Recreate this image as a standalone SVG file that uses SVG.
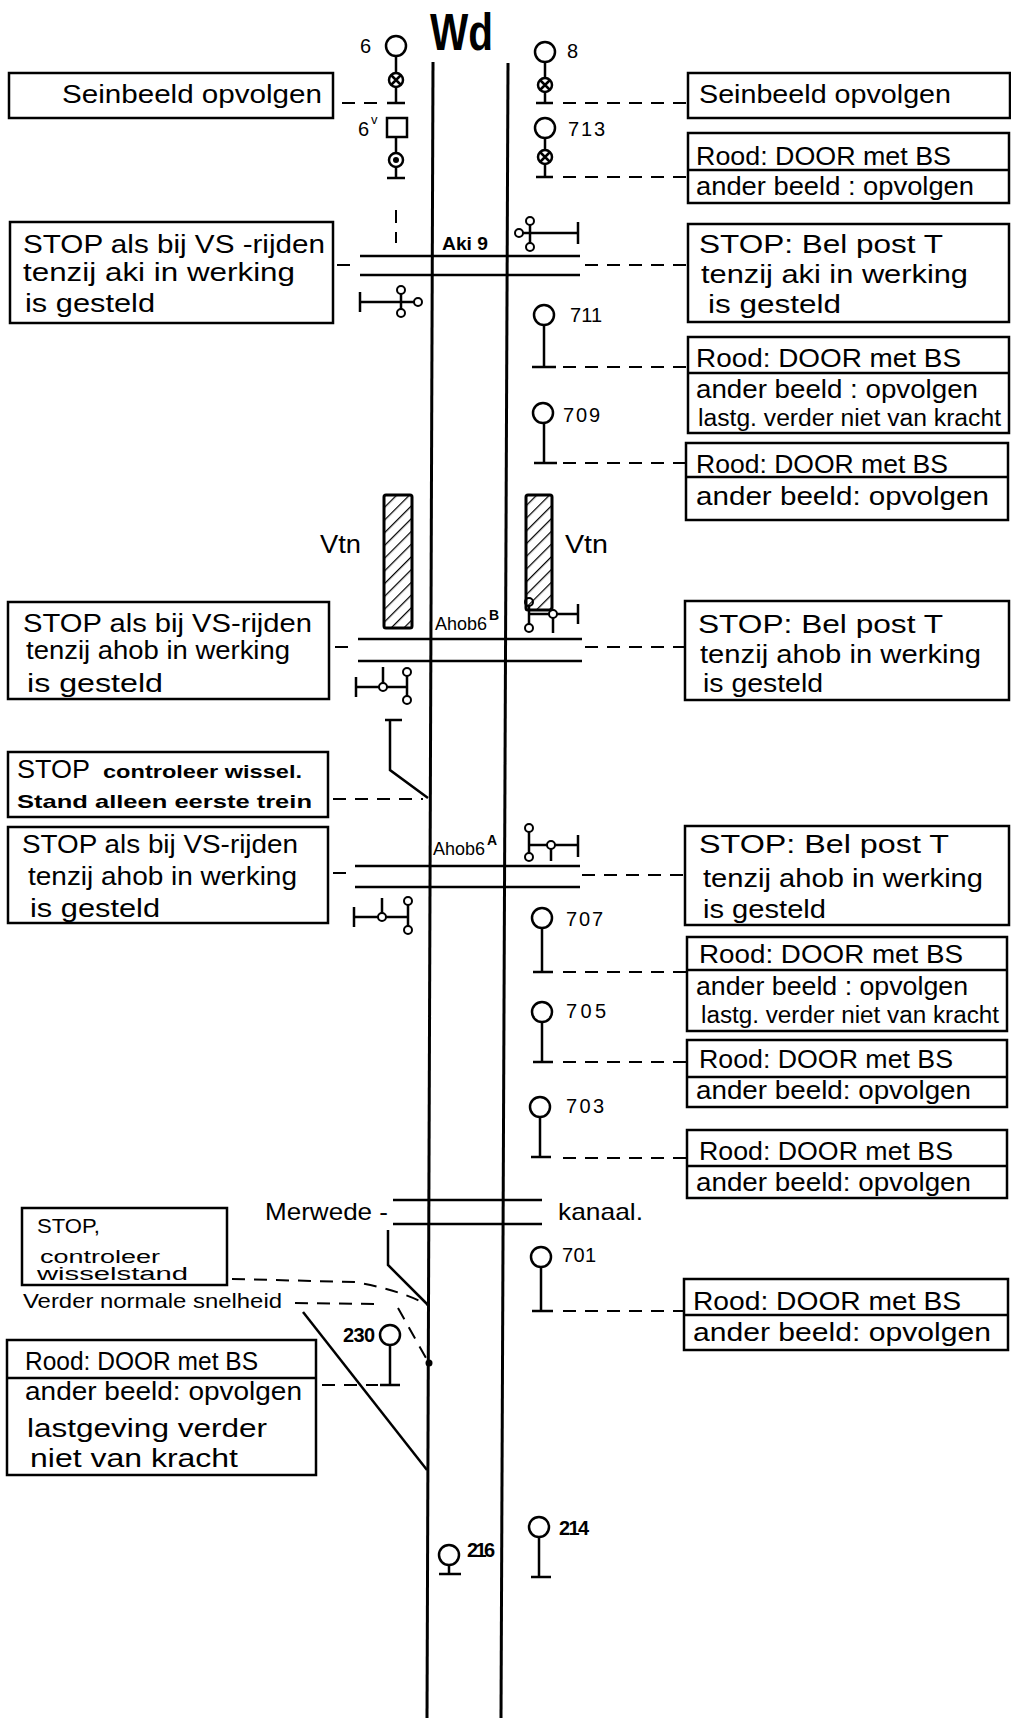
<svg xmlns="http://www.w3.org/2000/svg" width="1011" height="1720" viewBox="0 0 1011 1720">
<style>
text{font-family:"Liberation Sans",Arial,sans-serif;fill:#000}
.t{font-size:26px}
.s{font-size:20px}
.n{font-size:20px}
.box{fill:#fff;stroke:#000;stroke-width:2.5}
.ln{stroke:#000;stroke-width:2.5;fill:none}
.rail{stroke:#000;stroke-width:3;fill:none}
.dash{stroke:#000;stroke-width:2;fill:none;stroke-dasharray:13 9}
.sm{fill:#fff;stroke:#000;stroke-width:2}
.lamp{fill:#fff;stroke:#000;stroke-width:2.5}
</style>
<defs>
<pattern id="hatch" width="9" height="9" patternUnits="userSpaceOnUse" patternTransform="rotate(45)">
<line x1="0" y1="0" x2="0" y2="9" stroke="#000" stroke-width="2.5"/>
</pattern>
<g id="xlamp"><circle r="7" class="lamp"/><path d="M-5,-5L5,5M5,-5L-5,5" class="ln" stroke-width="2"/></g>
</defs>
<rect width="1011" height="1720" fill="#fff"/>

<g id="track">
<line x1="433" y1="62" x2="427" y2="1718" class="rail"/>
<line x1="508" y1="63" x2="501" y2="1718" class="rail"/>
<text x="430" y="50" font-size="52" font-weight="bold" textLength="63" lengthAdjust="spacingAndGlyphs">Wd</text>
</g>

<g id="crossings">
<line x1="360" y1="256" x2="580" y2="256" class="ln"/>
<line x1="360" y1="275" x2="580" y2="275" class="ln"/>
<text x="442" y="250" font-size="19" font-weight="bold" textLength="46" lengthAdjust="spacingAndGlyphs">Aki 9</text>
<line x1="358" y1="639" x2="582" y2="639" class="ln"/>
<line x1="358" y1="661" x2="582" y2="661" class="ln"/>
<text x="435" y="630" font-size="19" textLength="52" lengthAdjust="spacingAndGlyphs">Ahob6</text>
<text x="489" y="620" font-size="14" font-weight="bold">B</text>
<line x1="355" y1="866" x2="580" y2="866" class="ln"/>
<line x1="355" y1="887" x2="580" y2="887" class="ln"/>
<text x="433" y="855" font-size="19" textLength="52" lengthAdjust="spacingAndGlyphs">Ahob6</text>
<text x="487" y="845" font-size="14" font-weight="bold">A</text>
<line x1="393" y1="1200" x2="542" y2="1200" class="ln"/>
<line x1="393" y1="1224" x2="542" y2="1224" class="ln"/>
<text x="265" y="1220" font-size="24" textLength="123" lengthAdjust="spacingAndGlyphs">Merwede -</text>
<text x="558" y="1220" font-size="24" textLength="85" lengthAdjust="spacingAndGlyphs">kanaal.</text>
</g>

<g id="aki-symbols">
<path d="M523,233H578M578,222V244M530,225V243M360,302H414M360,292V312M401,294V309" class="ln" stroke-width="2"/>
<circle cx="519" cy="233" r="4" class="sm"/><circle cx="530" cy="221" r="4" class="sm"/><circle cx="530" cy="247" r="4" class="sm"/>
<circle cx="401" cy="290" r="4" class="sm"/><circle cx="401" cy="313" r="4" class="sm"/><circle cx="418" cy="302" r="4" class="sm"/>
</g>

<g id="ahob-symbols">
<path d="M529,606V624M529,614H578M578,604V624M553,618V633M356,687H407M356,677V697M383,683V667M407,676V696" class="ln" stroke-width="2"/>
<circle cx="529" cy="602" r="4" class="sm"/><circle cx="529" cy="628" r="4" class="sm"/><circle cx="553" cy="614" r="4" class="sm"/>
<circle cx="383" cy="687" r="4" class="sm"/><circle cx="407" cy="672" r="4" class="sm"/><circle cx="407" cy="700" r="4" class="sm"/>
<path d="M529,832V853M529,845H578M578,835V857M551,849V861M354,917H408M354,907V927M382,913V898M408,905V926" class="ln" stroke-width="2"/>
<circle cx="529" cy="828" r="4" class="sm"/><circle cx="529" cy="857" r="4" class="sm"/><circle cx="551" cy="845" r="4" class="sm"/>
<circle cx="382" cy="917" r="4" class="sm"/><circle cx="408" cy="901" r="4" class="sm"/><circle cx="408" cy="930" r="4" class="sm"/>
</g>

<g id="vtn">
<rect x="384" y="495" width="28" height="133" rx="2" fill="url(#hatch)" stroke="#000" stroke-width="3"/>
<rect x="526" y="495" width="26" height="115" rx="2" fill="url(#hatch)" stroke="#000" stroke-width="3"/>
<text x="320" y="553" class="t" textLength="41" lengthAdjust="spacingAndGlyphs">Vtn</text>
<text x="565" y="553" class="t" textLength="43" lengthAdjust="spacingAndGlyphs">Vtn</text>
</g>

<g id="switches">
<path d="M385,720H402M390,720V770L428,798" class="ln"/>
<path d="M388,1230V1265L428,1305" class="ln"/>
<line x1="303" y1="1312" x2="427" y2="1470" class="ln"/>
<circle cx="429" cy="1363" r="3.5" fill="#000"/>
</g>

<g id="sig-6">
<circle cx="396" cy="46" r="10" class="lamp"/><path d="M396,56V103M387,103H405" class="ln"/>
<use href="#xlamp" x="396" y="80"/>
<text x="360" y="53" class="n">6</text>
</g>
<g id="sig-6v">
<rect x="387" y="118" width="20" height="19" class="lamp"/><path d="M396,137V178M387,178H405" class="ln"/>
<circle cx="396" cy="160" r="7" class="lamp"/><circle cx="396" cy="160" r="3" fill="#000"/>
<text x="358" y="136" class="n">6</text><text x="371" y="124" font-size="13">v</text>
<line x1="396" y1="210" x2="396" y2="243" class="dash" stroke-width="2.5"/>
</g>
<g id="sig-8">
<circle cx="545" cy="52" r="10" class="lamp"/><path d="M545,62V103M536,103H553" class="ln"/>
<use href="#xlamp" x="545" y="85"/>
<text x="567" y="58" class="n">8</text>
</g>
<g id="sig-713">
<circle cx="545" cy="128" r="10" class="lamp"/><path d="M545,138V177M536,177H553" class="ln"/>
<use href="#xlamp" x="545" y="157"/>
<text x="568" y="136" class="n" textLength="37">713</text>
</g>
<g id="sig-711">
<circle cx="544" cy="315" r="10" class="lamp"/><path d="M544,325V367M532,367H556" class="ln"/>
<text x="570" y="322" class="n" textLength="32">711</text>
</g>
<g id="sig-709">
<circle cx="543" cy="413" r="10" class="lamp"/><path d="M544,423V463M534,463H557" class="ln"/>
<text x="563" y="422" class="n" textLength="37">709</text>
</g>
<g id="sig-707">
<circle cx="542" cy="918" r="10" class="lamp"/><path d="M542,928V972M533,972H553" class="ln"/>
<text x="566" y="926" class="n" textLength="37">707</text>
</g>
<g id="sig-705">
<circle cx="542" cy="1012" r="10" class="lamp"/><path d="M542,1022V1062M533,1062H553" class="ln"/>
<text x="566" y="1018" class="n" textLength="40">705</text>
</g>
<g id="sig-703">
<circle cx="540" cy="1107" r="10" class="lamp"/><path d="M540,1117V1157M531,1157H551" class="ln"/>
<text x="566" y="1113" class="n" textLength="38">703</text>
</g>
<g id="sig-701">
<circle cx="541" cy="1257" r="10" class="lamp"/><path d="M541,1267V1311M532,1311H553" class="ln"/>
<text x="562" y="1262" class="n" textLength="34">701</text>
</g>
<g id="sig-230">
<circle cx="390" cy="1335" r="10" class="lamp"/><path d="M390,1345V1385M380,1385H400" class="ln"/>
<text x="343" y="1342" class="n" textLength="32" font-weight="bold">230</text>
</g>
<g id="sig-216">
<circle cx="449" cy="1555" r="10" class="lamp"/><path d="M449,1565V1574M439,1574H461" class="ln"/>
<text x="467" y="1557" class="n" textLength="28" font-weight="bold">216</text>
</g>
<g id="sig-214">
<circle cx="539" cy="1527" r="10" class="lamp"/><path d="M539,1537V1577M531,1577H551" class="ln"/>
<text x="559" y="1535" class="n" textLength="30" font-weight="bold">214</text>
</g>

<g id="connectors">
<line x1="563" y1="103" x2="688" y2="103" class="dash"/>
<line x1="563" y1="177" x2="688" y2="177" class="dash"/>
<line x1="585" y1="265" x2="688" y2="265" class="dash"/>
<line x1="563" y1="367" x2="688" y2="367" class="dash"/>
<line x1="563" y1="463" x2="686" y2="463" class="dash"/>
<line x1="585" y1="647" x2="685" y2="647" class="dash"/>
<line x1="582" y1="875" x2="685" y2="875" class="dash"/>
<line x1="563" y1="972" x2="687" y2="972" class="dash"/>
<line x1="563" y1="1062" x2="687" y2="1062" class="dash"/>
<line x1="563" y1="1158" x2="687" y2="1158" class="dash"/>
<line x1="563" y1="1311" x2="684" y2="1311" class="dash"/>
<line x1="342" y1="103" x2="380" y2="103" class="dash"/>
<line x1="337" y1="265" x2="352" y2="265" class="dash"/>
<line x1="335" y1="647" x2="350" y2="647" class="dash"/>
<line x1="333" y1="799" x2="423" y2="799" class="dash"/>
<line x1="333" y1="873" x2="352" y2="873" class="dash"/>
<line x1="322" y1="1385" x2="378" y2="1385" class="dash"/>
<line x1="295" y1="1303" x2="380" y2="1304" class="dash"/>
<path d="M232,1279L355,1282Q400,1290 428,1305" class="dash" stroke-dasharray="8 7"/>
<line x1="398" y1="1308" x2="426" y2="1358" class="dash"/>
</g>

<g id="box-L1"><rect x="9" y="73" width="324" height="45" class="box"/>
<text x="62" y="103" class="t" font-size="28" textLength="260" lengthAdjust="spacingAndGlyphs">Seinbeeld opvolgen</text></g>
<g id="box-L2"><rect x="10" y="222" width="323" height="101" class="box"/>
<text x="23" y="253" class="t" textLength="302" lengthAdjust="spacingAndGlyphs">STOP als bij VS -rijden</text>
<text x="23" y="281" class="t" textLength="272" lengthAdjust="spacingAndGlyphs">tenzij aki in werking</text>
<text x="25" y="312" class="t" textLength="130" lengthAdjust="spacingAndGlyphs">is gesteld</text></g>
<g id="box-L3"><rect x="8" y="602" width="321" height="97" class="box"/>
<text x="23" y="632" class="t" textLength="289" lengthAdjust="spacingAndGlyphs">STOP als bij VS-rijden</text>
<text x="26" y="659" class="t" textLength="264" lengthAdjust="spacingAndGlyphs">tenzij ahob in werking</text>
<text x="27" y="692" class="t" textLength="136" lengthAdjust="spacingAndGlyphs">is gesteld</text></g>
<g id="box-L4"><rect x="8" y="752" width="320" height="65" class="box"/>
<text x="17" y="778" class="t" textLength="73" lengthAdjust="spacingAndGlyphs">STOP</text>
<text x="103" y="778" font-size="19" font-weight="bold" textLength="199" lengthAdjust="spacingAndGlyphs">controleer wissel.</text>
<text x="17" y="808" font-size="19" font-weight="bold" textLength="295" lengthAdjust="spacingAndGlyphs">Stand alleen eerste trein</text></g>
<g id="box-L5"><rect x="8" y="827" width="320" height="96" class="box"/>
<text x="22" y="853" class="t" textLength="276" lengthAdjust="spacingAndGlyphs">STOP als bij VS-rijden</text>
<text x="28" y="885" class="t" textLength="269" lengthAdjust="spacingAndGlyphs">tenzij ahob in werking</text>
<text x="30" y="917" class="t" textLength="130" lengthAdjust="spacingAndGlyphs">is gesteld</text></g>
<g id="box-L6"><rect x="22" y="1208" width="205" height="77" class="box"/>
<text x="37" y="1233" font-size="21" textLength="63" lengthAdjust="spacingAndGlyphs">STOP,</text>
<text x="40" y="1263" font-size="18" textLength="120" lengthAdjust="spacingAndGlyphs">controleer</text>
<text x="37" y="1280" font-size="18" textLength="151" lengthAdjust="spacingAndGlyphs">wisselstand</text></g>
<g id="label-verder"><text x="23" y="1308" font-size="21" textLength="259" lengthAdjust="spacingAndGlyphs">Verder normale snelheid</text></g>
<g id="box-L7"><rect x="7" y="1340" width="309" height="135" class="box"/><line x1="7" y1="1378" x2="316" y2="1378" class="ln"/>
<text x="25" y="1370" class="t" textLength="233" lengthAdjust="spacingAndGlyphs">Rood: DOOR met BS</text>
<text x="25" y="1400" class="t" textLength="277" lengthAdjust="spacingAndGlyphs">ander beeld: opvolgen</text>
<text x="27" y="1437" class="t" textLength="240" lengthAdjust="spacingAndGlyphs">lastgeving verder</text>
<text x="30" y="1467" class="t" textLength="208" lengthAdjust="spacingAndGlyphs">niet van kracht</text></g>

<g id="box-R1"><rect x="688" y="73" width="322" height="45" class="box"/>
<text x="699" y="103" class="t" textLength="252" lengthAdjust="spacingAndGlyphs">Seinbeeld opvolgen</text></g>
<g id="box-R2"><rect x="688" y="133" width="321" height="70" class="box"/><line x1="688" y1="170" x2="1009" y2="170" class="ln"/>
<text x="696" y="165" class="t" textLength="255" lengthAdjust="spacingAndGlyphs">Rood: DOOR met BS</text>
<text x="696" y="195" class="t" textLength="278" lengthAdjust="spacingAndGlyphs">ander beeld : opvolgen</text></g>
<g id="box-R3"><rect x="688" y="224" width="321" height="98" class="box"/>
<text x="699" y="253" class="t" textLength="244" lengthAdjust="spacingAndGlyphs">STOP: Bel post T</text>
<text x="701" y="283" class="t" textLength="267" lengthAdjust="spacingAndGlyphs">tenzij aki in werking</text>
<text x="708" y="313" class="t" textLength="133" lengthAdjust="spacingAndGlyphs">is gesteld</text></g>
<g id="box-R4"><rect x="688" y="337" width="321" height="96" class="box"/><line x1="688" y1="373" x2="1009" y2="373" class="ln"/>
<text x="696" y="367" class="t" textLength="265" lengthAdjust="spacingAndGlyphs">Rood: DOOR met BS</text>
<text x="696" y="398" class="t" textLength="282" lengthAdjust="spacingAndGlyphs">ander beeld : opvolgen</text>
<text x="698" y="426" font-size="23" textLength="303" lengthAdjust="spacingAndGlyphs">lastg. verder niet van kracht</text></g>
<g id="box-R5"><rect x="686" y="443" width="322" height="77" class="box"/><line x1="686" y1="477" x2="1008" y2="477" class="ln"/>
<text x="696" y="473" class="t" textLength="252" lengthAdjust="spacingAndGlyphs">Rood: DOOR met BS</text>
<text x="696" y="505" class="t" textLength="293" lengthAdjust="spacingAndGlyphs">ander beeld: opvolgen</text></g>
<g id="box-R6"><rect x="685" y="601" width="324" height="99" class="box"/>
<text x="698" y="633" class="t" textLength="245" lengthAdjust="spacingAndGlyphs">STOP: Bel post T</text>
<text x="700" y="663" class="t" textLength="281" lengthAdjust="spacingAndGlyphs">tenzij ahob in werking</text>
<text x="703" y="692" class="t" textLength="120" lengthAdjust="spacingAndGlyphs">is gesteld</text></g>
<g id="box-R7"><rect x="685" y="826" width="324" height="99" class="box"/>
<text x="699" y="853" class="t" textLength="250" lengthAdjust="spacingAndGlyphs">STOP: Bel post T</text>
<text x="703" y="887" class="t" textLength="280" lengthAdjust="spacingAndGlyphs">tenzij ahob in werking</text>
<text x="703" y="918" class="t" textLength="123" lengthAdjust="spacingAndGlyphs">is gesteld</text></g>
<g id="box-R8"><rect x="687" y="937" width="320" height="94" class="box"/><line x1="687" y1="970" x2="1007" y2="970" class="ln"/>
<text x="699" y="963" class="t" textLength="264" lengthAdjust="spacingAndGlyphs">Rood: DOOR met BS</text>
<text x="696" y="995" class="t" textLength="272" lengthAdjust="spacingAndGlyphs">ander beeld : opvolgen</text>
<text x="701" y="1023" font-size="23" textLength="298" lengthAdjust="spacingAndGlyphs">lastg. verder niet van kracht</text></g>
<g id="box-R9"><rect x="687" y="1040" width="320" height="67" class="box"/><line x1="687" y1="1077" x2="1007" y2="1077" class="ln"/>
<text x="699" y="1068" class="t" textLength="254" lengthAdjust="spacingAndGlyphs">Rood: DOOR met BS</text>
<text x="696" y="1099" class="t" textLength="275" lengthAdjust="spacingAndGlyphs">ander beeld: opvolgen</text></g>
<g id="box-R10"><rect x="687" y="1130" width="320" height="68" class="box"/><line x1="687" y1="1166" x2="1007" y2="1166" class="ln"/>
<text x="699" y="1160" class="t" textLength="254" lengthAdjust="spacingAndGlyphs">Rood: DOOR met BS</text>
<text x="696" y="1191" class="t" textLength="275" lengthAdjust="spacingAndGlyphs">ander beeld: opvolgen</text></g>
<g id="box-R11"><rect x="684" y="1279" width="324" height="71" class="box"/><line x1="684" y1="1315" x2="1008" y2="1315" class="ln"/>
<text x="693" y="1310" class="t" textLength="268" lengthAdjust="spacingAndGlyphs">Rood: DOOR met BS</text>
<text x="693" y="1341" class="t" textLength="298" lengthAdjust="spacingAndGlyphs">ander beeld: opvolgen</text></g>
</svg>
